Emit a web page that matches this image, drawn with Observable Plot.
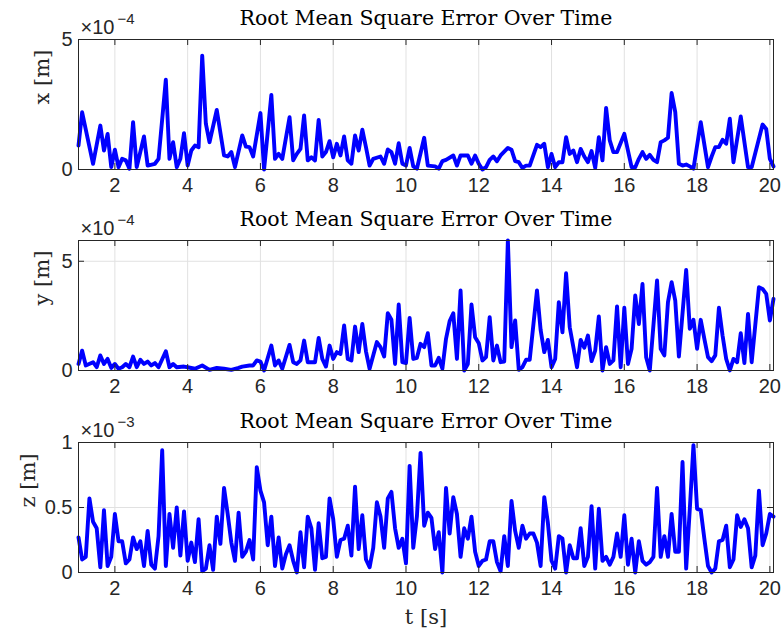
<!DOCTYPE html>
<html><head><meta charset="utf-8">
<script src="https://cdn.jsdelivr.net/npm/d3@7"></script>
<script src="https://cdn.jsdelivr.net/npm/@observablehq/plot@0.6"></script>
<style>body{margin:0;background:#fff}#chart svg{display:block}</style>
</head><body><div id="chart"></div><script>
// ---- data ----
const TITLE = "Root Mean Square Error Over Time";
const xTicks = [2, 4, 6, 8, 10, 12, 14, 16, 18, 20];
const xDomain = [1, 20.1];

// x-error, units of 1e-4 m
const tX = [1.0,1.1,1.4,1.6,1.7,1.8,1.9,2.0,2.1,2.2,2.3,2.4,2.5,2.6,2.8,2.9,3.1,3.2,3.4,3.5,3.6,3.7,3.8,3.9,4.0,4.1,4.2,4.3,4.4,4.5,4.6,4.8,5.0,5.1,5.2,5.3,5.5,5.6,5.7,5.8,6.0,6.1,6.3,6.4,6.5,6.6,6.8,6.9,7.0,7.1,7.2,7.3,7.4,7.5,7.6,7.7,7.8,7.9,8.0,8.1,8.2,8.3,8.4,8.5,8.6,8.7,8.8,8.9,9.0,9.1,9.3,9.4,9.5,9.6,9.7,9.8,9.9,10.0,10.1,10.2,10.3,10.5,10.6,10.8,10.9,11.0,11.1,11.3,11.4,11.5,11.7,11.8,11.9,12.0,12.1,12.2,12.3,12.4,12.5,12.6,12.8,12.9,13.0,13.1,13.2,13.3,13.4,13.6,13.7,13.8,13.9,14.0,14.1,14.2,14.3,14.4,14.5,14.6,14.7,14.8,14.9,15.0,15.1,15.2,15.3,15.4,15.5,15.6,15.7,15.8,16.0,16.2,16.3,16.4,16.5,16.6,16.7,16.8,16.9,17.0,17.1,17.2,17.3,17.4,17.5,17.6,17.7,17.8,17.9,18.1,18.3,18.4,18.5,18.6,18.7,18.8,18.9,19.0,19.2,19.4,19.5,19.8,19.9,20.0,20.1];
const xErr = [0.92,2.2,0.22,1.69,0.73,1.37,0.09,0.76,0.09,0.41,0.35,0.03,1.82,0.09,1.27,0.15,0.22,0.41,3.45,0.41,1.05,0.09,0.41,1.40,0.15,0.73,0.92,0.86,4.38,1.76,1.05,2.29,0.54,0.50,0.67,0.09,1.31,0.88,0.86,0.50,2.17,0.0,2.87,0.41,0.60,0.41,2.01,0.35,0.60,0.79,2.08,0.35,0.47,0.35,1.91,0.50,0.67,1.09,0.47,0.99,0.54,1.27,0.35,0.22,1.31,0.73,1.53,0.86,0.15,0.41,0.50,0.22,0.77,0.67,0.22,1.01,0.22,0.15,0.83,0.12,0.03,1.22,0.15,0.12,0.03,0.32,0.37,0.54,0.15,0.54,0.54,0.22,0.54,0.22,0.0,0.09,0.37,0.50,0.32,0.54,0.83,0.76,0.32,0.28,0.06,0.15,0.15,0.95,0.86,0.99,0.09,0.60,0.09,0.28,0.28,1.24,0.60,0.73,0.28,0.79,0.50,0.28,0.71,0.06,1.24,0.35,2.37,1.12,0.67,0.67,1.37,0.09,0.09,0.41,0.67,0.41,0.56,0.37,0.28,1.05,1.12,1.22,2.94,2.21,0.22,0.15,0.19,0.12,0.03,1.82,0.09,0.50,0.86,0.86,1.14,0.99,1.95,0.28,2.04,0.09,0.09,1.73,1.56,0.41,0.12];

// y-error, units of 1e-4 m
const tY = [1.0,1.1,1.2,1.4,1.5,1.6,1.7,1.8,1.9,2.0,2.1,2.2,2.3,2.4,2.5,2.6,2.7,2.8,2.9,3.0,3.1,3.2,3.4,3.5,3.6,3.7,3.9,4.0,4.2,4.4,4.6,4.8,5.0,5.2,5.4,5.5,5.7,5.8,5.9,6.0,6.1,6.3,6.4,6.5,6.6,6.8,6.9,7.0,7.1,7.2,7.3,7.5,7.6,7.7,7.8,7.9,8.0,8.1,8.2,8.3,8.4,8.5,8.6,8.7,8.8,8.9,9.0,9.2,9.3,9.4,9.5,9.6,9.7,9.8,9.9,10.0,10.1,10.2,10.3,10.4,10.5,10.6,10.7,10.8,10.9,11.0,11.1,11.2,11.3,11.4,11.5,11.6,11.7,11.8,11.9,12.0,12.1,12.2,12.3,12.4,12.5,12.6,12.7,12.8,12.9,13.0,13.1,13.2,13.3,13.4,13.6,13.7,13.8,13.9,14.0,14.1,14.2,14.3,14.4,14.5,14.7,14.8,14.9,15.0,15.1,15.2,15.3,15.4,15.5,15.6,15.7,15.8,15.9,16.0,16.1,16.2,16.3,16.4,16.5,16.6,16.7,16.9,17.0,17.1,17.2,17.3,17.4,17.5,17.7,17.8,17.9,18.0,18.1,18.2,18.3,18.4,18.5,18.6,18.7,18.8,18.9,19.0,19.1,19.2,19.3,19.4,19.5,19.7,19.8,19.9,20.0,20.1];
const yErr = [0.30,0.91,0.23,0.38,0.15,0.69,0.30,0.53,0.12,0.30,0.08,0.15,0.30,0.15,0.64,0.15,0.49,0.30,0.41,0.23,0.34,0.15,0.88,0.15,0.30,0.15,0.18,0.15,0.08,0.23,0.03,0.12,0.08,0.03,0.12,0.18,0.23,0.23,0.46,0.41,0.0,1.14,0.23,0.46,0.08,1.17,0.38,0.30,0.46,1.37,0.38,0.38,1.49,0.53,0.18,1.14,0.53,0.84,0.76,2.06,0.53,0.46,2.01,0.84,2.13,0.88,0.08,1.30,1.07,0.64,2.62,2.32,0.30,3.02,0.38,0.34,2.41,0.53,0.58,1.22,1.07,1.71,0.23,0.23,0.58,0.08,1.45,2.26,2.62,0.53,3.66,0.0,0.30,3.02,1.52,1.25,0.46,0.61,2.44,0.46,1.14,0.38,0.41,5.95,1.07,2.29,0.03,0.15,0.49,0.49,3.66,1.86,0.84,1.40,0.15,0.53,3.13,1.75,4.45,1.98,0.15,1.40,1.04,1.60,0.43,0.91,2.47,0.0,1.07,0.30,0.46,2.93,0.15,2.87,0.30,0.99,3.43,2.13,3.96,0.61,0.0,4.12,0.99,0.69,3.13,4.04,3.20,0.64,4.60,1.91,2.32,0.99,2.32,1.45,0.61,0.43,0.69,2.87,1.60,0.53,0.0,0.53,0.38,1.71,0.34,2.59,0.38,3.81,3.73,3.51,2.29,3.28];

// z-error, units of 1e-3 m (sampled every 0.1 s from 1.0 to 20.1)
const tZ = d3.range(192).map(i => +(1 + i / 10).toFixed(1));
const zErr = [0.27,0.10,0.12,0.57,0.39,0.34,0.04,0.48,0.05,0.12,0.45,0.24,0.24,0.07,0.10,0.27,0.18,0.24,0.05,0.32,0.06,0.03,0.28,0.94,0.05,0.45,0.19,0.50,0.13,0.47,0.09,0.23,0.08,0.41,0.01,0.03,0.21,0.02,0.43,0.22,0.65,0.45,0.23,0.09,0.46,0.12,0.16,0.25,0.10,0.81,0.63,0.54,0.21,0.43,0.05,0.27,0.03,0.14,0.21,0.09,0.0,0.31,0.04,0.43,0.34,0.02,0.38,0.11,0.12,0.57,0.41,0.12,0.25,0.26,0.36,0.13,0.66,0.18,0.44,0.10,0.04,0.19,0.54,0.43,0.19,0.57,0.62,0.34,0.19,0.26,0.07,0.82,0.19,0.43,0.92,0.36,0.46,0.42,0.18,0.31,0.0,0.65,0.30,0.58,0.45,0.12,0.34,0.26,0.43,0.16,0.05,0.09,0.10,0.24,0.24,0.08,0.01,0.28,0.05,0.55,0.32,0.19,0.36,0.26,0.30,0.30,0.23,0.05,0.58,0.38,0.09,0.03,0.28,0.26,0.0,0.21,0.11,0.11,0.34,0.05,0.12,0.51,0.03,0.49,0.09,0.12,0.06,0.12,0.30,0.12,0.44,0.06,0.26,0.0,0.24,0.09,0.06,0.08,0.12,0.65,0.12,0.28,0.12,0.45,0.16,0.16,0.85,0.03,0.49,0.98,0.49,0.48,0.26,0.05,0.0,0.03,0.24,0.25,0.36,0.04,0.10,0.44,0.35,0.41,0.34,0.04,0.13,0.63,0.21,0.30,0.45,0.43];

const panels = [
  {t: tX, v: xErr, ymax: 5, yTicks: [0, 5], ylabel: "x [m]", exp: "−4", height: 201, mt: 39, ldx: -36},
  {t: tY, v: yErr, ymax: 5.95, yTicks: [0, 5], ylabel: "y [m]", exp: "−4", height: 201, mt: 39, ldx: -36},
  {t: tZ, v: zErr, ymax: 1, yTicks: [0, 0.5, 1], ylabel: "z [m]", exp: "−3", height: 230, mt: 40, ldx: -50, xlabel: "t [s]"}
];

// ---- drawing ----
const W = 783, ML = 78, MR = 10, plotH = 130;
const plotW = W - ML - MR;
const SANS = "'Liberation Sans', Arial, Helvetica, sans-serif";
const SERIF = "'DejaVu Serif', 'Liberation Serif', serif";
const INK = "#262626", GRID = "#e1e1e1", TL = 6;
const fmt = d3.format("~g");

function panel(o) {
  const data = o.t.map((t, i) => ({t, v: o.v[i]}));
  const marks = [
    Plot.gridX(xTicks, {stroke: GRID, strokeOpacity: 1}),
    Plot.gridY(o.yTicks, {stroke: GRID, strokeOpacity: 1}),
    Plot.lineY(data, {x: "t", y: "v", stroke: "#0000ff", strokeWidth: 3.9, strokeLinejoin: "round", strokeLinecap: "round"}),
    Plot.tickX(xTicks, {x: d => d, stroke: INK, insetTop: plotH - TL}),
    Plot.tickX(xTicks, {x: d => d, stroke: INK, insetBottom: plotH - TL}),
    Plot.tickY(o.yTicks, {y: d => d, stroke: INK, insetRight: plotW - TL}),
    Plot.tickY(o.yTicks, {y: d => d, stroke: INK, insetLeft: plotW - TL}),
    Plot.frame({stroke: INK}),
    Plot.axisX(xTicks, {tickSize: 0, tickPadding: 8, label: null, fill: INK, fontSize: 20, tickFormat: fmt}),
    Plot.axisY(o.yTicks, {tickSize: 0, tickPadding: 6, label: null, fill: INK, fontSize: 20, tickFormat: fmt}),
    Plot.text([TITLE], {text: d => d, frameAnchor: "top", lineAnchor: "middle", dy: -21, fontFamily: SERIF, fontSize: 20.5, fill: "#000"}),
    Plot.text([o.ylabel], {text: d => d, frameAnchor: "left", rotate: -90, dx: o.ldx, fontFamily: SERIF, fontSize: 21, fill: INK}),
    Plot.text(["×10"], {text: d => d, frameAnchor: "top-left", lineAnchor: "middle", textAnchor: "start", dx: 2, dy: -12, fontSize: 20, fill: INK}),
    Plot.text([o.exp], {text: d => d, frameAnchor: "top-left", lineAnchor: "middle", textAnchor: "start", dx: 39, dy: -20, fontSize: 15, fill: INK})
  ];
  if (o.xlabel) marks.push(Plot.text([o.xlabel], {text: d => d, frameAnchor: "bottom", lineAnchor: "middle", dy: 45, fontFamily: SERIF, fontSize: 21, fill: INK}));
  return Plot.plot({
    width: W, height: o.height,
    marginLeft: ML, marginRight: MR, marginTop: o.mt, marginBottom: o.height - o.mt - plotH,
    style: {fontFamily: SANS, fontSize: "20px", color: INK, background: "#fff", overflow: "visible"},
    x: {domain: xDomain},
    y: {domain: [0, o.ymax]},
    marks
  });
}

const root = document.getElementById("chart");
panels.forEach(p => root.appendChild(panel(p)));
</script></body></html>
